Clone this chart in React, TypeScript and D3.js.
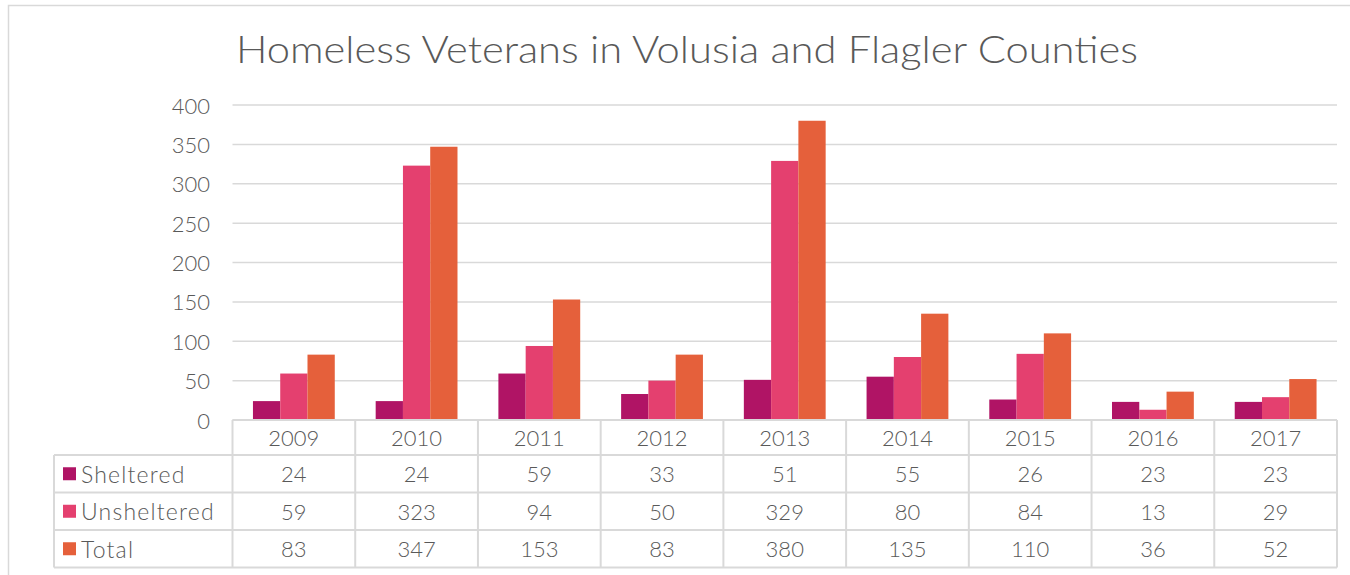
import React from "react";
import * as d3 from "d3";

const title = "Homeless Veterans in Volusia and Flagler Counties";
const years = ["2009", "2010", "2011", "2012", "2013", "2014", "2015", "2016", "2017"];
const seriesNames = ["Sheltered", "Unsheltered", "Total"];
const sheltered = [24, 24, 59, 33, 51, 55, 26, 23, 23];
const unsheltered = [59, 323, 94, 50, 329, 80, 84, 13, 29];
const total = [83, 347, 153, 83, 380, 135, 110, 36, 52];
const yTicks = [0, 50, 100, 150, 200, 250, 300, 350, 400];
const colors = ["#B01465", "#E4406F", "#E5603B"];

const W = 1350;
const H = 575;
const FONT = "Lato, 'Open Sans', sans-serif";
const TEXT = "#595959";
const GRID = "#D9D9D9";

export default function App() {
  const values = [sheltered, unsheltered, total];
  const plotL = 232.5;
  const plotR = 1337;
  const y = d3.scaleLinear().domain([0, 400]).range([420, 105]);
  const x = d3.scaleBand<string>().domain(years).range([plotL, plotR]).padding(0);
  const xs = d3
    .scaleBand<string>()
    .domain(seriesNames)
    .range([0, x.bandwidth()])
    .paddingInner(0)
    .paddingOuter(0.75);

  const tableLeft = 54;
  const headerTop = 420;
  const headerBottom = 455;
  const rowH = 37.5;
  const rowTops = seriesNames.map((_, i) => headerBottom + i * rowH);
  const tableBottom = headerBottom + seriesNames.length * rowH;

  return (
    <svg
      width={W}
      height={H}
      style={{ position: "absolute", left: 0, top: 0, background: "#fff" }}
      fontFamily={FONT}
    >
      <rect x={8.5} y={5.5} width={W + 10} height={H + 10} fill="#fff" stroke={GRID} strokeWidth={1.5} />
      <text
        x={236}
        y={63}
        fontSize={37}
        fontWeight={300}
        fill={TEXT}
        textLength={902}
        lengthAdjust="spacingAndGlyphs"
      >
        {title}
      </text>

      {yTicks.map((t) => (
        <g key={t}>
          <line x1={plotL} x2={plotR} y1={y(t)} y2={y(t)} stroke={GRID} strokeWidth={1.5} />
          <text x={210} y={y(t)} textAnchor="end" dominantBaseline="central" fontSize={22} fontWeight={300} fill={TEXT}>
            {t}
          </text>
        </g>
      ))}

      {years.map((yr, i) => (
        <g key={yr}>
          {seriesNames.map((s, j) => (
            <rect
              key={s}
              x={(x(yr) as number) + (xs(s) as number)}
              y={y(values[j][i])}
              width={xs.bandwidth()}
              height={y(0) - y(values[j][i])}
              fill={colors[j]}
            />
          ))}
        </g>
      ))}

      {years.map((yr) => (
        <line
          key={"v" + yr}
          x1={x(yr) as number}
          x2={x(yr) as number}
          y1={headerTop}
          y2={tableBottom}
          stroke={GRID}
          strokeWidth={2}
        />
      ))}
      <line x1={plotR} x2={plotR} y1={headerTop} y2={tableBottom} stroke={GRID} strokeWidth={2} />
      <line x1={tableLeft} x2={tableLeft} y1={headerBottom} y2={tableBottom} stroke={GRID} strokeWidth={2} />
      {[...rowTops, tableBottom].map((ry, k) => (
        <line key={"h" + k} x1={tableLeft} x2={plotR} y1={ry} y2={ry} stroke={GRID} strokeWidth={2} />
      ))}
      <line x1={plotL} x2={plotR} y1={headerTop} y2={headerTop} stroke={GRID} strokeWidth={2} />

      {years.map((yr) => (
        <text
          key={"yl" + yr}
          x={(x(yr) as number) + x.bandwidth() / 2}
          y={(headerTop + headerBottom) / 2}
          textAnchor="middle"
          dominantBaseline="central"
          fontSize={22}
          fontWeight={300}
          fill={TEXT}
        >
          {yr}
        </text>
      ))}

      {seriesNames.map((s, j) => (
        <g key={"row" + s}>
          <rect x={63} y={rowTops[j] + rowH / 2 - 6.5} width={13} height={13} fill={colors[j]} />
          <text
            x={81}
            y={rowTops[j] + rowH / 2}
            dominantBaseline="central"
            fontSize={23}
            fontWeight={300}
            letterSpacing={1.2}
            fill={TEXT}
          >
            {s}
          </text>
          {years.map((yr, i) => (
            <text
              key={yr}
              x={(x(yr) as number) + x.bandwidth() / 2}
              y={rowTops[j] + rowH / 2}
              textAnchor="middle"
              dominantBaseline="central"
              fontSize={22}
              fontWeight={300}
              fill={TEXT}
            >
              {values[j][i]}
            </text>
          ))}
        </g>
      ))}
    </svg>
  );
}
